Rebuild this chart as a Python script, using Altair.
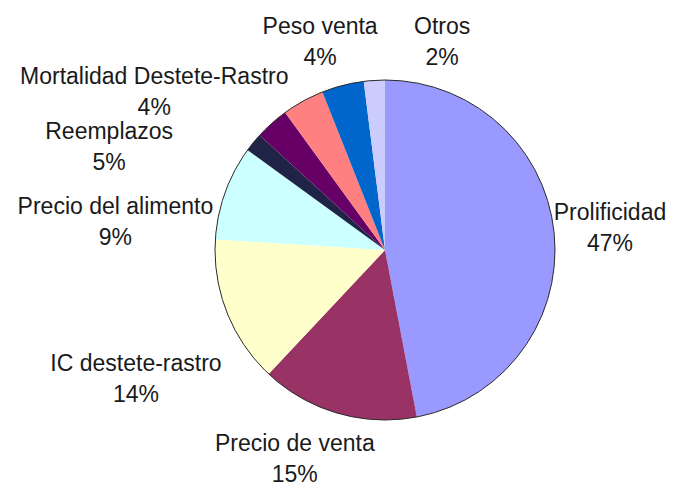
import math
import altair as alt
import pandas as pd

# ---- data ----
categories = ["Prolificidad", "Precio de venta", "IC destete-rastro", "Precio del alimento",
              "Sin etiqueta", "Reemplazos", "Mortalidad Destete-Rastro", "Peso venta", "Otros"]
values = [47, 15, 14, 9, 1.8, 3.2, 4, 4, 2]
percent_labels = ["47%", "15%", "14%", "9%", "", "5%", "4%", "4%", "2%"]
show_label = [True, True, True, True, False, True, True, True, True]
colors = ["#9999FF", "#993366", "#FFFFCC", "#CCFFFF", "#1F2446",
          "#660066", "#FF8080", "#0066CC", "#CCCCFF"]

# ---- label layout (relative to each slice's mid angle) ----
label_angle_shift_deg = [0, 7, -6, -14, 0, -28, -27, -3, 19]
label_radius = [226, 229, 281, 271, 0, 294, 279, 217, 215]

PIE_R = 170
FONT = "Liberation Sans"

total = sum(values)
rows = []
cum = 0.0
for i, (c, v) in enumerate(zip(categories, values)):
    mid_deg = (cum + v / 2) / total * 360.0
    cum += v
    rows.append({
        "category": c,
        "value": v,
        "order": i,
        "label": f"{c}\n{percent_labels[i]}",
        "show": show_label[i],
        "label_theta": math.radians(mid_deg + label_angle_shift_deg[i]),
        "label_r": label_radius[i],
    })
df = pd.DataFrame(rows)

pie = alt.Chart(df).mark_arc(outerRadius=PIE_R, stroke=None).encode(
    theta=alt.Theta("value:Q", stack=True),
    color=alt.Color("category:N", scale=alt.Scale(domain=categories, range=colors), legend=None),
    order=alt.Order("order:Q"),
)

outline = alt.Chart(pd.DataFrame({"total": [total]})).mark_arc(
    outerRadius=PIE_R, fillOpacity=0, stroke="#2a2a2a", strokeWidth=1
).encode(theta=alt.Theta("total:Q"))

labels = alt.Chart(df[df["show"]]).mark_text(
    font=FONT, fontSize=23, lineBreak="\n", lineHeight=31,
    align="center", baseline="middle", color="#1a1a1a", dy=-16
).encode(
    theta=alt.Theta("label_theta:Q", scale=None),
    radius=alt.Radius("label_r:Q", scale=None),
    text="label:N",
)

chart = alt.layer(pie, outline, labels).resolve_scale(
    theta="independent", radius="independent"
).properties(
    width=576, height=476,
    padding={"left": 97, "top": 12, "right": 0, "bottom": 0},
    autosize=alt.AutoSizeParams(type="none"),
    background="white",
).configure_view(stroke=None)

chart.save("out.html", embed_options={"renderer": "svg", "actions": False})
